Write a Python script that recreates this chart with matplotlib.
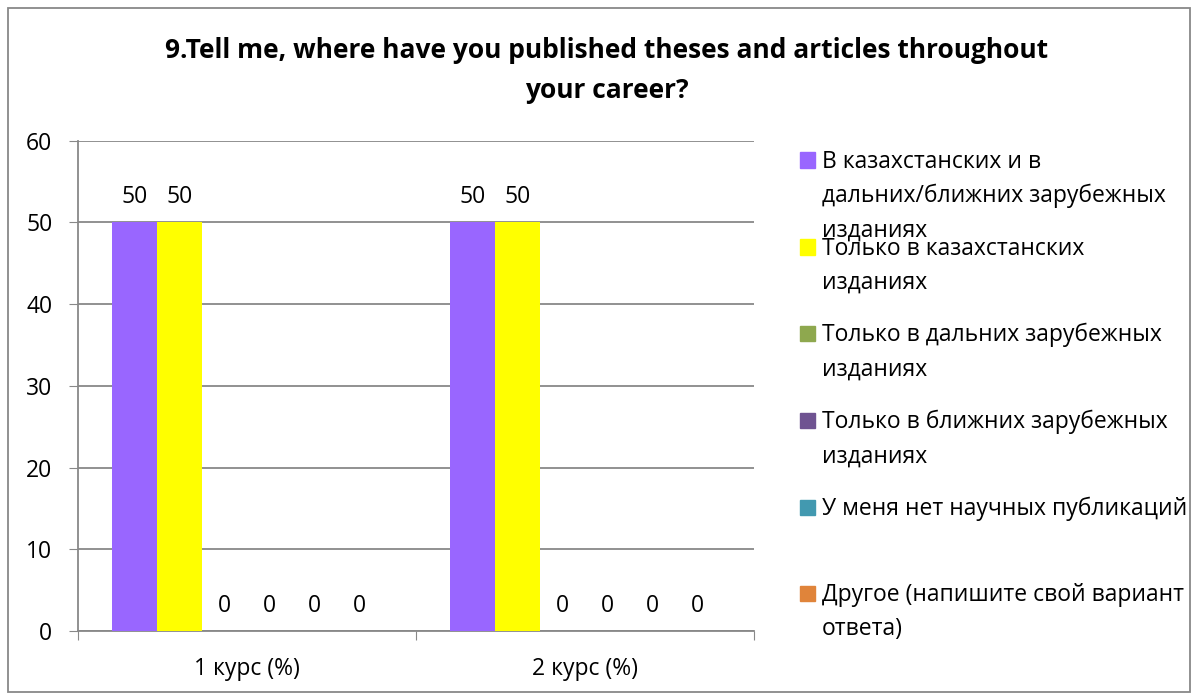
import numpy as np
import matplotlib
matplotlib.use("Agg")
import matplotlib.pyplot as plt
from matplotlib.patches import Rectangle

plt.rcParams["font.family"] = ["Open Sans", "DejaVu Sans"]

title = "9.Tell me, where have you published theses and articles throughout\nyour career?"
categories = ["1 курс (%)", "2 курс (%)"]
series_names = [
    "В казахстанских и в\nдальних/ближних зарубежных\nизданиях",
    "Только в казахстанских\nизданиях",
    "Только в дальних зарубежных\nизданиях",
    "Только в ближних зарубежных\nизданиях",
    "У меня нет научных публикаций",
    "Другое (напишите свой вариант\nответа)",
]
kz_and_abroad = [50, 50]
kz_only = [50, 50]
far_abroad = [0, 0]
near_abroad = [0, 0]
no_pubs = [0, 0]
other = [0, 0]
series_values = [kz_and_abroad, kz_only, far_abroad, near_abroad, no_pubs, other]
colors = ["#9966FF", "#FFFF00", "#8EA84E", "#6F5391", "#4299B0", "#E0843A"]
yticks = [0, 10, 20, 30, 40, 50, 60]

FS = 16.5
fig = plt.figure(figsize=(11.96, 6.93), dpi=100)
ax = fig.add_axes([0.0652, 0.0895, 0.5652, 0.7075])

x = np.arange(len(categories))
w = 0.1331
for i, (vals, c) in enumerate(zip(series_values, colors)):
    bars = ax.bar(x + (i - 2.5) * w, vals, w, color=c, zorder=3)
    for b, v in zip(bars, vals):
        if i < 2 or v == 0:
            ax.annotate(f"{v:g}", (b.get_x() + b.get_width() / 2, v),
                        xytext=(0, 25), textcoords="offset pixels",
                        ha="center", va="center", fontsize=FS)

ax.set_xlim(-0.5, len(categories) - 0.5)
ax.set_ylim(0, 60)
ax.set_yticks(yticks)
ax.tick_params(axis="y", length=6.5, color="#888888", labelsize=FS, pad=12)
ax.set_xticks(np.arange(-0.5, len(categories)), minor=False)
ax.set_xticklabels([])
ax.set_xticks(x, minor=True)
ax.set_xticklabels(categories, minor=True, fontsize=FS)
ax.tick_params(axis="x", which="major", length=6.5, color="#888888")
ax.tick_params(axis="x", which="minor", length=0, pad=19)
ax.grid(axis="y", color="#888888", linewidth=1.3, zorder=0)
for s in ["top", "right"]:
    ax.spines[s].set_visible(False)
for s in ["left", "bottom"]:
    ax.spines[s].set_color("#888888")
    ax.spines[s].set_linewidth(1.3)

fig.text(0.5075, 0.898, title, ha="center", va="center", fontsize=19,
         fontweight="bold", linespacing=1.64)

# legend drawn by hand so the markers sit on the first text line
first_line_y = [160, 247, 333, 420, 507, 593]
for name, c, ly in zip(series_names, colors, first_line_y):
    fig.patches.append(Rectangle((800 / 1196, 1 - (ly + 7.5) / 693), 15 / 1196, 15 / 693,
                                 transform=fig.transFigure, color=c))
    fig.text(822 / 1196, 1 - (ly - 10) / 693, name, ha="left", va="top",
             fontsize=FS, linespacing=1.55)

fig.patches.append(Rectangle((8 / 1196, 1 / 693), 1182 / 1196, 684 / 693, fill=False,
                             edgecolor="#888888", linewidth=1.3, transform=fig.transFigure))

fig.savefig("out.png", dpi=100)
